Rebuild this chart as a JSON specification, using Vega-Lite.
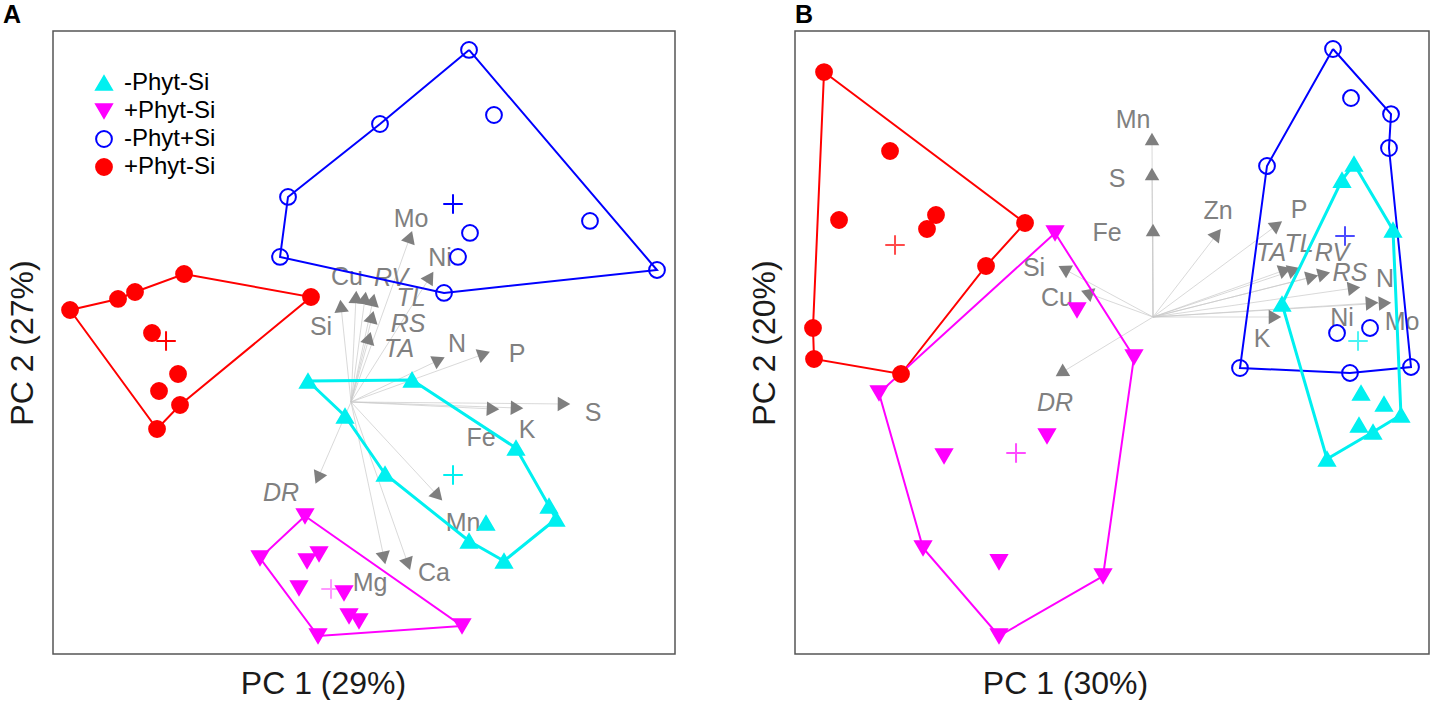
{
  "$schema": "https://vega.github.io/schema/vega-lite/v6.json",
  "padding": {"left": 2, "top": 2, "right": 0, "bottom": 0},
  "background": "white",
  "spacing": 71,
  "config": {
    "font": "Liberation Sans",
    "view": {"stroke": "#555555", "strokeWidth": 1.5},
    "axis": {"labels": false, "ticks": false, "domain": false, "grid": false, "titleFont": "Liberation Sans", "titleFontSize": 32, "titleFontWeight": "normal", "titleColor": "#1a1a1a", "titlePadding": 14},
    "axisX": {"titleX": 270, "titleAlign": "center"},
    "legend": {"orient": "none", "legendX": 39, "legendY": 40, "title": null, "labelFontSize": 24, "labelFont": "Liberation Sans", "labelColor": "#000000", "symbolSize": 250, "symbolStrokeWidth": 2, "rowPadding": 4, "labelOffset": 8, "padding": 0}
  },
  "resolve": {
    "scale": {"color": "independent", "fill": "independent", "stroke": "independent", "shape": "independent"}
  },
  "datasets": {
    "ptsA": [
      {"g": "-Phyt+Si", "x": 1.967, "y": 5.867}, {"g": "-Phyt+Si", "x": 0.483, "y": 4.633}, {"g": "-Phyt+Si", "x": -1.05, "y": 3.417}, {"g": "-Phyt+Si", "x": -1.183, "y": 2.417}, {"g": "-Phyt+Si", "x": 1.55, "y": 1.817}, {"g": "-Phyt+Si", "x": 5.1, "y": 2.2}, {"g": "-Phyt+Si", "x": 2.383, "y": 4.783}, {"g": "-Phyt+Si", "x": 3.983, "y": 3.017}, {"g": "-Phyt+Si", "x": 1.983, "y": 2.817}, {"g": "-Phyt+Si", "x": 1.783, "y": 2.417},
      {"g": "+Phyt+Si", "x": -4.683, "y": 1.533}, {"g": "+Phyt+Si", "x": -3.883, "y": 1.717}, {"g": "+Phyt+Si", "x": -3.6, "y": 1.833}, {"g": "+Phyt+Si", "x": -2.783, "y": 2.133}, {"g": "+Phyt+Si", "x": -0.667, "y": 1.75}, {"g": "+Phyt+Si", "x": -3.317, "y": 1.15}, {"g": "+Phyt+Si", "x": -2.883, "y": 0.467}, {"g": "+Phyt+Si", "x": -3.2, "y": 0.183}, {"g": "+Phyt+Si", "x": -2.85, "y": -0.05}, {"g": "+Phyt+Si", "x": -3.233, "y": -0.45},
      {"g": "-Phyt-Si", "x": -0.717, "y": 0.35}, {"g": "-Phyt-Si", "x": 1.017, "y": 0.367}, {"g": "-Phyt-Si", "x": -0.1, "y": -0.233}, {"g": "-Phyt-Si", "x": 0.567, "y": -1.2}, {"g": "-Phyt-Si", "x": 2.75, "y": -0.767}, {"g": "-Phyt-Si", "x": 3.3, "y": -1.733}, {"g": "-Phyt-Si", "x": 3.417, "y": -1.95}, {"g": "-Phyt-Si", "x": 2.25, "y": -2.017}, {"g": "-Phyt-Si", "x": 1.967, "y": -2.317}, {"g": "-Phyt-Si", "x": 2.55, "y": -2.65},
      {"g": "+Phyt-Si", "x": -0.767, "y": -1.9}, {"g": "+Phyt-Si", "x": -1.517, "y": -2.6}, {"g": "+Phyt-Si", "x": -0.533, "y": -2.533}, {"g": "+Phyt-Si", "x": -0.733, "y": -2.65}, {"g": "+Phyt-Si", "x": -0.867, "y": -3.1}, {"g": "+Phyt-Si", "x": -0.117, "y": -3.183}, {"g": "+Phyt-Si", "x": -0.033, "y": -3.567}, {"g": "+Phyt-Si", "x": 0.133, "y": -3.65}, {"g": "+Phyt-Si", "x": -0.55, "y": -3.9}, {"g": "+Phyt-Si", "x": 1.85, "y": -3.733}
    ],
    "hullA": [
      {"g": "-Phyt+Si", "o": 1, "x": 1.967, "y": 5.867}, {"g": "-Phyt+Si", "o": 2, "x": 5.1, "y": 2.2}, {"g": "-Phyt+Si", "o": 3, "x": 1.55, "y": 1.817}, {"g": "-Phyt+Si", "o": 4, "x": -1.183, "y": 2.417}, {"g": "-Phyt+Si", "o": 5, "x": -1.05, "y": 3.417}, {"g": "-Phyt+Si", "o": 6, "x": 0.483, "y": 4.633}, {"g": "-Phyt+Si", "o": 7, "x": 1.967, "y": 5.867},
      {"g": "+Phyt+Si", "o": 1, "x": -4.683, "y": 1.533}, {"g": "+Phyt+Si", "o": 2, "x": -3.883, "y": 1.717}, {"g": "+Phyt+Si", "o": 3, "x": -3.6, "y": 1.833}, {"g": "+Phyt+Si", "o": 4, "x": -2.783, "y": 2.133}, {"g": "+Phyt+Si", "o": 5, "x": -0.667, "y": 1.75}, {"g": "+Phyt+Si", "o": 6, "x": -2.85, "y": -0.05}, {"g": "+Phyt+Si", "o": 7, "x": -3.233, "y": -0.45}, {"g": "+Phyt+Si", "o": 8, "x": -4.683, "y": 1.533},
      {"g": "-Phyt-Si", "o": 1, "x": -0.717, "y": 0.35}, {"g": "-Phyt-Si", "o": 2, "x": 1.017, "y": 0.367}, {"g": "-Phyt-Si", "o": 3, "x": 2.75, "y": -0.767}, {"g": "-Phyt-Si", "o": 4, "x": 3.3, "y": -1.733}, {"g": "-Phyt-Si", "o": 5, "x": 3.417, "y": -1.95}, {"g": "-Phyt-Si", "o": 6, "x": 2.55, "y": -2.65}, {"g": "-Phyt-Si", "o": 7, "x": 1.967, "y": -2.317}, {"g": "-Phyt-Si", "o": 8, "x": 0.567, "y": -1.2}, {"g": "-Phyt-Si", "o": 9, "x": -0.1, "y": -0.233}, {"g": "-Phyt-Si", "o": 10, "x": -0.717, "y": 0.35},
      {"g": "+Phyt-Si", "o": 1, "x": -0.767, "y": -1.9}, {"g": "+Phyt-Si", "o": 2, "x": 1.85, "y": -3.733}, {"g": "+Phyt-Si", "o": 3, "x": -0.55, "y": -3.9}, {"g": "+Phyt-Si", "o": 4, "x": -1.517, "y": -2.6}, {"g": "+Phyt-Si", "o": 5, "x": -0.767, "y": -1.9}
    ],
    "cenA": [
      {"g": "-Phyt+Si", "x": 1.7, "y": 3.3}, {"g": "+Phyt+Si", "x": -3.083, "y": 1.017}, {"g": "-Phyt-Si", "x": 1.7, "y": -1.217}, {"g": "+Phyt-Si", "x": -0.333, "y": -3.117}
    ],
    "arrA": [
      {"v": "Mo", "x": 0.983, "y": 2.75, "lx": 1.0, "ly": 3.05, "it": false},
      {"v": "Ni", "x": 1.317, "y": 2.083, "lx": 1.483, "ly": 2.4, "it": false},
      {"v": "Cu", "x": 0.083, "y": 1.75, "lx": -0.067, "ly": 2.083, "it": false},
      {"v": "Si", "x": -0.167, "y": 1.6, "lx": -0.5, "ly": 1.25, "it": false},
      {"v": "RV", "x": 0.233, "y": 1.733, "lx": 0.667, "ly": 2.067, "it": true},
      {"v": "TL", "x": 0.367, "y": 1.7, "lx": 1.0, "ly": 1.733, "it": true},
      {"v": "RS", "x": 0.35, "y": 1.417, "lx": 0.95, "ly": 1.3, "it": true},
      {"v": "TA", "x": 0.3, "y": 1.067, "lx": 0.8, "ly": 0.883, "it": true},
      {"v": "N", "x": 1.467, "y": 0.7, "lx": 1.767, "ly": 0.967, "it": false},
      {"v": "P", "x": 2.217, "y": 0.8, "lx": 2.767, "ly": 0.8, "it": false},
      {"v": "S", "x": 3.55, "y": -0.033, "lx": 4.033, "ly": -0.183, "it": false},
      {"v": "K", "x": 2.767, "y": -0.1, "lx": 2.933, "ly": -0.467, "it": false},
      {"v": "Fe", "x": 2.367, "y": -0.117, "lx": 2.167, "ly": -0.6, "it": false},
      {"v": "DR", "x": -0.55, "y": -1.267, "lx": -1.167, "ly": -1.517, "it": true},
      {"v": "Mn", "x": 1.45, "y": -1.567, "lx": 1.867, "ly": -2.017, "it": false},
      {"v": "Mg", "x": 0.55, "y": -2.6, "lx": 0.317, "ly": -3.017, "it": false},
      {"v": "Ca", "x": 0.95, "y": -2.7, "lx": 1.383, "ly": -2.85, "it": false}
    ],
    "ptsB": [
      {"g": "+Phyt+Si", "x": -5.483, "y": 4.083}, {"g": "+Phyt+Si", "x": -4.383, "y": 2.767}, {"g": "+Phyt+Si", "x": -5.233, "y": 1.617}, {"g": "+Phyt+Si", "x": -3.617, "y": 1.7}, {"g": "+Phyt+Si", "x": -3.767, "y": 1.467}, {"g": "+Phyt+Si", "x": -2.133, "y": 1.567}, {"g": "+Phyt+Si", "x": -2.783, "y": 0.85}, {"g": "+Phyt+Si", "x": -5.667, "y": -0.183}, {"g": "+Phyt+Si", "x": -5.65, "y": -0.7}, {"g": "+Phyt+Si", "x": -4.2, "y": -0.95},
      {"g": "-Phyt+Si", "x": 3.0, "y": 4.467}, {"g": "-Phyt+Si", "x": 3.3, "y": 3.65}, {"g": "-Phyt+Si", "x": 3.967, "y": 3.383}, {"g": "-Phyt+Si", "x": 3.933, "y": 2.817}, {"g": "-Phyt+Si", "x": 1.9, "y": 2.517}, {"g": "-Phyt+Si", "x": 1.45, "y": -0.85}, {"g": "-Phyt+Si", "x": 3.283, "y": -0.933}, {"g": "-Phyt+Si", "x": 4.3, "y": -0.833}, {"g": "-Phyt+Si", "x": 3.067, "y": -0.267}, {"g": "-Phyt+Si", "x": 3.617, "y": -0.183},
      {"g": "-Phyt-Si", "x": 3.35, "y": 2.55}, {"g": "-Phyt-Si", "x": 3.15, "y": 2.283}, {"g": "-Phyt-Si", "x": 4.0, "y": 1.45}, {"g": "-Phyt-Si", "x": 2.15, "y": 0.217}, {"g": "-Phyt-Si", "x": 4.133, "y": -1.633}, {"g": "-Phyt-Si", "x": 3.85, "y": -1.45}, {"g": "-Phyt-Si", "x": 3.467, "y": -1.267}, {"g": "-Phyt-Si", "x": 3.433, "y": -1.8}, {"g": "-Phyt-Si", "x": 3.667, "y": -1.917}, {"g": "-Phyt-Si", "x": 2.9, "y": -2.367},
      {"g": "+Phyt-Si", "x": -1.633, "y": 1.4}, {"g": "+Phyt-Si", "x": -1.267, "y": 0.117}, {"g": "+Phyt-Si", "x": -4.567, "y": -1.267}, {"g": "+Phyt-Si", "x": -3.833, "y": -3.85}, {"g": "+Phyt-Si", "x": -2.567, "y": -5.317}, {"g": "+Phyt-Si", "x": -0.833, "y": -4.317}, {"g": "+Phyt-Si", "x": -0.317, "y": -0.667}, {"g": "+Phyt-Si", "x": -3.483, "y": -2.317}, {"g": "+Phyt-Si", "x": -1.767, "y": -1.983}, {"g": "+Phyt-Si", "x": -2.567, "y": -4.083}
    ],
    "hullB": [
      {"g": "+Phyt+Si", "o": 1, "x": -5.483, "y": 4.083}, {"g": "+Phyt+Si", "o": 2, "x": -2.133, "y": 1.567}, {"g": "+Phyt+Si", "o": 3, "x": -2.783, "y": 0.85}, {"g": "+Phyt+Si", "o": 4, "x": -4.2, "y": -0.95}, {"g": "+Phyt+Si", "o": 5, "x": -5.65, "y": -0.7}, {"g": "+Phyt+Si", "o": 6, "x": -5.667, "y": -0.183}, {"g": "+Phyt+Si", "o": 7, "x": -5.483, "y": 4.083},
      {"g": "-Phyt+Si", "o": 1, "x": 3.0, "y": 4.467}, {"g": "-Phyt+Si", "o": 2, "x": 3.967, "y": 3.383}, {"g": "-Phyt+Si", "o": 3, "x": 3.933, "y": 2.817}, {"g": "-Phyt+Si", "o": 4, "x": 4.3, "y": -0.833}, {"g": "-Phyt+Si", "o": 5, "x": 3.283, "y": -0.933}, {"g": "-Phyt+Si", "o": 6, "x": 1.45, "y": -0.85}, {"g": "-Phyt+Si", "o": 7, "x": 1.9, "y": 2.517}, {"g": "-Phyt+Si", "o": 8, "x": 3.0, "y": 4.467},
      {"g": "-Phyt-Si", "o": 1, "x": 3.35, "y": 2.55}, {"g": "-Phyt-Si", "o": 2, "x": 4.0, "y": 1.45}, {"g": "-Phyt-Si", "o": 3, "x": 4.133, "y": -1.633}, {"g": "-Phyt-Si", "o": 4, "x": 3.667, "y": -1.917}, {"g": "-Phyt-Si", "o": 5, "x": 2.9, "y": -2.367}, {"g": "-Phyt-Si", "o": 6, "x": 2.15, "y": 0.217}, {"g": "-Phyt-Si", "o": 7, "x": 3.15, "y": 2.283}, {"g": "-Phyt-Si", "o": 8, "x": 3.35, "y": 2.55},
      {"g": "+Phyt-Si", "o": 1, "x": -1.633, "y": 1.4}, {"g": "+Phyt-Si", "o": 2, "x": -0.317, "y": -0.667}, {"g": "+Phyt-Si", "o": 3, "x": -0.833, "y": -4.317}, {"g": "+Phyt-Si", "o": 4, "x": -2.567, "y": -5.317}, {"g": "+Phyt-Si", "o": 5, "x": -3.833, "y": -3.85}, {"g": "+Phyt-Si", "o": 6, "x": -4.567, "y": -1.267}, {"g": "+Phyt-Si", "o": 7, "x": -1.633, "y": 1.4}
    ],
    "cenB": [
      {"g": "+Phyt+Si", "x": -4.3, "y": 1.2}, {"g": "-Phyt+Si", "x": 3.2, "y": 1.35}, {"g": "-Phyt-Si", "x": 3.417, "y": -0.4}, {"g": "+Phyt-Si", "x": -2.283, "y": -2.267}
    ],
    "arrB": [
      {"v": "Mn", "x": -0.017, "y": 2.967, "lx": -0.333, "ly": 3.283, "it": false},
      {"v": "S", "x": -0.017, "y": 2.383, "lx": -0.6, "ly": 2.3, "it": false},
      {"v": "Fe", "x": 0.0, "y": 1.45, "lx": -0.767, "ly": 1.4, "it": false},
      {"v": "Zn", "x": 1.067, "y": 1.383, "lx": 1.083, "ly": 1.767, "it": false},
      {"v": "P", "x": 2.067, "y": 1.533, "lx": 2.433, "ly": 1.783, "it": false},
      {"v": "TA", "x": 2.2, "y": 0.783, "lx": 1.967, "ly": 1.067, "it": true},
      {"v": "TL", "x": 2.35, "y": 0.783, "lx": 2.433, "ly": 1.217, "it": true},
      {"v": "RV", "x": 2.65, "y": 0.667, "lx": 2.983, "ly": 1.067, "it": true},
      {"v": "RS", "x": 2.85, "y": 0.717, "lx": 3.283, "ly": 0.733, "it": true},
      {"v": "N", "x": 3.35, "y": 0.483, "lx": 3.867, "ly": 0.633, "it": false},
      {"v": "Ni", "x": 3.65, "y": 0.233, "lx": 3.15, "ly": -0.017, "it": false},
      {"v": "Mo", "x": 3.867, "y": 0.233, "lx": 4.15, "ly": -0.083, "it": false},
      {"v": "K", "x": 2.033, "y": 0.0, "lx": 1.817, "ly": -0.367, "it": false},
      {"v": "Si", "x": -1.483, "y": 0.8, "lx": -1.983, "ly": 0.817, "it": false},
      {"v": "Cu", "x": -1.1, "y": 0.4, "lx": -1.6, "ly": 0.317, "it": false},
      {"v": "DR", "x": -1.533, "y": -0.933, "lx": -1.633, "ly": -1.433, "it": true}
    ]
  },
  "hconcat": [
    {
      "width": 622,
      "height": 623,
      "title": {"text": "A", "anchor": "start", "frame": "group", "dx": -50, "fontSize": 25, "fontWeight": "bold", "font": "Liberation Sans", "color": "#000000", "offset": 3},
      "layer": [
        {
          "data": {"name": "arrA"},
          "mark": {"type": "rule", "color": "#c8c8c8", "strokeWidth": 0.7},
          "encoding": {
            "x": {"field": "x", "type": "quantitative", "scale": {"domain": [-4.967, 5.4], "nice": false, "zero": false}, "title": "PC 1 (29%)"},
            "x2": {"datum": 0},
            "y": {"field": "y", "type": "quantitative", "scale": {"domain": [-4.2, 6.183], "nice": false, "zero": false}, "title": "PC 2 (27%)"},
            "y2": {"datum": 0}
          }
        },
        {
          "data": {"name": "arrA"},
          "transform": [{"calculate": "atan2(datum.x, datum.y) * 180 / PI", "as": "ang"}],
          "mark": {"type": "point", "shape": "triangle-up", "filled": true, "color": "#7f7f7f", "size": 210, "opacity": 1},
          "encoding": {
            "x": {"field": "x", "type": "quantitative", "scale": {"domain": [-4.967, 5.4], "nice": false, "zero": false}, "title": "PC 1 (29%)"},
            "y": {"field": "y", "type": "quantitative", "scale": {"domain": [-4.2, 6.183], "nice": false, "zero": false}, "title": "PC 2 (27%)"},
            "angle": {"field": "ang", "type": "quantitative", "scale": null}
          }
        },
        {
          "data": {"name": "arrA"},
          "transform": [{"filter": "!datum.it"}],
          "mark": {"type": "text", "font": "Liberation Sans", "fontSize": 25, "color": "#808080", "align": "center", "baseline": "middle"},
          "encoding": {
            "x": {"field": "lx", "type": "quantitative", "scale": {"domain": [-4.967, 5.4], "nice": false, "zero": false}, "title": "PC 1 (29%)"},
            "y": {"field": "ly", "type": "quantitative", "scale": {"domain": [-4.2, 6.183], "nice": false, "zero": false}, "title": "PC 2 (27%)"},
            "text": {"field": "v", "type": "nominal"}
          }
        },
        {
          "data": {"name": "arrA"},
          "transform": [{"filter": "datum.it"}],
          "mark": {"type": "text", "font": "Liberation Sans", "fontSize": 25, "fontStyle": "italic", "color": "#808080", "align": "center", "baseline": "middle"},
          "encoding": {
            "x": {"field": "lx", "type": "quantitative", "scale": {"domain": [-4.967, 5.4], "nice": false, "zero": false}, "title": "PC 1 (29%)"},
            "y": {"field": "ly", "type": "quantitative", "scale": {"domain": [-4.2, 6.183], "nice": false, "zero": false}, "title": "PC 2 (27%)"},
            "text": {"field": "v", "type": "nominal"}
          }
        },
        {
          "data": {"name": "hullA"},
          "transform": [{"filter": "datum.g != '-Phyt-Si'"}],
          "mark": {"type": "line", "strokeWidth": 2},
          "encoding": {
            "x": {"field": "x", "type": "quantitative", "scale": {"domain": [-4.967, 5.4], "nice": false, "zero": false}, "title": "PC 1 (29%)"},
            "y": {"field": "y", "type": "quantitative", "scale": {"domain": [-4.2, 6.183], "nice": false, "zero": false}, "title": "PC 2 (27%)"},
            "order": {"field": "o", "type": "quantitative"},
            "color": {"field": "g", "type": "nominal", "scale": {"domain": ["+Phyt+Si", "-Phyt+Si", "+Phyt-Si", "-Phyt-Si"], "range": ["#ff0000", "#0000ff", "#ff00ff", "#00f0f0"]}, "legend": null}
          }
        },
        {
          "data": {"name": "hullA"},
          "transform": [{"filter": "datum.g == '-Phyt-Si'"}],
          "mark": {"type": "line", "strokeWidth": 3},
          "encoding": {
            "x": {"field": "x", "type": "quantitative", "scale": {"domain": [-4.967, 5.4], "nice": false, "zero": false}, "title": "PC 1 (29%)"},
            "y": {"field": "y", "type": "quantitative", "scale": {"domain": [-4.2, 6.183], "nice": false, "zero": false}, "title": "PC 2 (27%)"},
            "order": {"field": "o", "type": "quantitative"},
            "color": {"field": "g", "type": "nominal", "scale": {"domain": ["+Phyt+Si", "-Phyt+Si", "+Phyt-Si", "-Phyt-Si"], "range": ["#ff0000", "#0000ff", "#ff00ff", "#00f0f0"]}, "legend": null}
          }
        },
        {
          "data": {"name": "ptsA"},
          "mark": {"type": "point", "filled": true, "size": 250, "strokeWidth": 2, "opacity": 1},
          "encoding": {
            "x": {"field": "x", "type": "quantitative", "scale": {"domain": [-4.967, 5.4], "nice": false, "zero": false}, "title": "PC 1 (29%)"},
            "y": {"field": "y", "type": "quantitative", "scale": {"domain": [-4.2, 6.183], "nice": false, "zero": false}, "title": "PC 2 (27%)"},
            "fill": {"field": "g", "type": "nominal", "scale": {"domain": ["-Phyt-Si", "+Phyt-Si", "-Phyt+Si", "+Phyt+Si"], "range": ["#00f0f0", "#ff00ff", "transparent", "#ff0000"]},
              "legend": {"labelExpr": "datum.label == '+Phyt+Si' ? '+Phyt-Si' : datum.label"}},
            "stroke": {"field": "g", "type": "nominal", "scale": {"domain": ["-Phyt-Si", "+Phyt-Si", "-Phyt+Si", "+Phyt+Si"], "range": ["#00f0f0", "#ff00ff", "#0000ff", "#ff0000"]},
              "legend": {"labelExpr": "datum.label == '+Phyt+Si' ? '+Phyt-Si' : datum.label"}},
            "shape": {"field": "g", "type": "nominal", "scale": {"domain": ["-Phyt-Si", "+Phyt-Si", "-Phyt+Si", "+Phyt+Si"], "range": ["triangle-up", "triangle-down", "circle", "circle"]},
              "legend": {"labelExpr": "datum.label == '+Phyt+Si' ? '+Phyt-Si' : datum.label"}}
          }
        },
        {
          "data": {"name": "cenA"},
          "mark": {"type": "point", "shape": "M-1,0L1,0M0,-1L0,1", "filled": false, "size": 380, "strokeWidth": 2},
          "encoding": {
            "x": {"field": "x", "type": "quantitative", "scale": {"domain": [-4.967, 5.4], "nice": false, "zero": false}, "title": "PC 1 (29%)"},
            "y": {"field": "y", "type": "quantitative", "scale": {"domain": [-4.2, 6.183], "nice": false, "zero": false}, "title": "PC 2 (27%)"},
            "color": {"field": "g", "type": "nominal", "scale": {"domain": ["+Phyt+Si", "-Phyt+Si", "+Phyt-Si", "-Phyt-Si"], "range": ["#ff0000", "#0000ff", "#ff00ff", "#00f0f0"]}, "legend": null},
            "opacity": {"condition": {"test": "datum.g == '+Phyt-Si'", "value": 0.4}, "value": 1}
          }
        }
      ]
    },
    {
      "width": 634,
      "height": 623,
      "title": {"text": "B", "anchor": "start", "frame": "group", "dx": 0, "fontSize": 25, "fontWeight": "bold", "font": "Liberation Sans", "color": "#000000", "offset": 3},
      "layer": [
        {
          "data": {"name": "arrB"},
          "mark": {"type": "rule", "color": "#c8c8c8", "strokeWidth": 0.7},
          "encoding": {
            "x": {"field": "x", "type": "quantitative", "scale": {"domain": [-5.967, 4.6], "nice": false, "zero": false}, "title": "PC 1 (30%)"},
            "x2": {"datum": 0},
            "y": {"field": "y", "type": "quantitative", "scale": {"domain": [-5.617, 4.767], "nice": false, "zero": false}, "title": "PC 2 (20%)"},
            "y2": {"datum": 0}
          }
        },
        {
          "data": {"name": "arrB"},
          "transform": [{"calculate": "atan2(datum.x, datum.y) * 180 / PI", "as": "ang"}],
          "mark": {"type": "point", "shape": "triangle-up", "filled": true, "color": "#7f7f7f", "size": 210, "opacity": 1},
          "encoding": {
            "x": {"field": "x", "type": "quantitative", "scale": {"domain": [-5.967, 4.6], "nice": false, "zero": false}, "title": "PC 1 (30%)"},
            "y": {"field": "y", "type": "quantitative", "scale": {"domain": [-5.617, 4.767], "nice": false, "zero": false}, "title": "PC 2 (20%)"},
            "angle": {"field": "ang", "type": "quantitative", "scale": null}
          }
        },
        {
          "data": {"name": "arrB"},
          "transform": [{"filter": "!datum.it"}],
          "mark": {"type": "text", "font": "Liberation Sans", "fontSize": 25, "color": "#808080", "align": "center", "baseline": "middle"},
          "encoding": {
            "x": {"field": "lx", "type": "quantitative", "scale": {"domain": [-5.967, 4.6], "nice": false, "zero": false}, "title": "PC 1 (30%)"},
            "y": {"field": "ly", "type": "quantitative", "scale": {"domain": [-5.617, 4.767], "nice": false, "zero": false}, "title": "PC 2 (20%)"},
            "text": {"field": "v", "type": "nominal"}
          }
        },
        {
          "data": {"name": "arrB"},
          "transform": [{"filter": "datum.it"}],
          "mark": {"type": "text", "font": "Liberation Sans", "fontSize": 25, "fontStyle": "italic", "color": "#808080", "align": "center", "baseline": "middle"},
          "encoding": {
            "x": {"field": "lx", "type": "quantitative", "scale": {"domain": [-5.967, 4.6], "nice": false, "zero": false}, "title": "PC 1 (30%)"},
            "y": {"field": "ly", "type": "quantitative", "scale": {"domain": [-5.617, 4.767], "nice": false, "zero": false}, "title": "PC 2 (20%)"},
            "text": {"field": "v", "type": "nominal"}
          }
        },
        {
          "data": {"name": "hullB"},
          "transform": [{"filter": "datum.g != '-Phyt-Si'"}],
          "mark": {"type": "line", "strokeWidth": 2},
          "encoding": {
            "x": {"field": "x", "type": "quantitative", "scale": {"domain": [-5.967, 4.6], "nice": false, "zero": false}, "title": "PC 1 (30%)"},
            "y": {"field": "y", "type": "quantitative", "scale": {"domain": [-5.617, 4.767], "nice": false, "zero": false}, "title": "PC 2 (20%)"},
            "order": {"field": "o", "type": "quantitative"},
            "color": {"field": "g", "type": "nominal", "scale": {"domain": ["+Phyt+Si", "-Phyt+Si", "+Phyt-Si", "-Phyt-Si"], "range": ["#ff0000", "#0000ff", "#ff00ff", "#00f0f0"]}, "legend": null}
          }
        },
        {
          "data": {"name": "hullB"},
          "transform": [{"filter": "datum.g == '-Phyt-Si'"}],
          "mark": {"type": "line", "strokeWidth": 3},
          "encoding": {
            "x": {"field": "x", "type": "quantitative", "scale": {"domain": [-5.967, 4.6], "nice": false, "zero": false}, "title": "PC 1 (30%)"},
            "y": {"field": "y", "type": "quantitative", "scale": {"domain": [-5.617, 4.767], "nice": false, "zero": false}, "title": "PC 2 (20%)"},
            "order": {"field": "o", "type": "quantitative"},
            "color": {"field": "g", "type": "nominal", "scale": {"domain": ["+Phyt+Si", "-Phyt+Si", "+Phyt-Si", "-Phyt-Si"], "range": ["#ff0000", "#0000ff", "#ff00ff", "#00f0f0"]}, "legend": null}
          }
        },
        {
          "data": {"name": "ptsB"},
          "mark": {"type": "point", "filled": true, "size": 250, "strokeWidth": 2, "opacity": 1},
          "encoding": {
            "x": {"field": "x", "type": "quantitative", "scale": {"domain": [-5.967, 4.6], "nice": false, "zero": false}, "title": "PC 1 (30%)"},
            "y": {"field": "y", "type": "quantitative", "scale": {"domain": [-5.617, 4.767], "nice": false, "zero": false}, "title": "PC 2 (20%)"},
            "fill": {"field": "g", "type": "nominal", "scale": {"domain": ["-Phyt-Si", "+Phyt-Si", "-Phyt+Si", "+Phyt+Si"], "range": ["#00f0f0", "#ff00ff", "transparent", "#ff0000"]}, "legend": null},
            "stroke": {"field": "g", "type": "nominal", "scale": {"domain": ["-Phyt-Si", "+Phyt-Si", "-Phyt+Si", "+Phyt+Si"], "range": ["#00f0f0", "#ff00ff", "#0000ff", "#ff0000"]}, "legend": null},
            "shape": {"field": "g", "type": "nominal", "scale": {"domain": ["-Phyt-Si", "+Phyt-Si", "-Phyt+Si", "+Phyt+Si"], "range": ["triangle-up", "triangle-down", "circle", "circle"]}, "legend": null}
          }
        },
        {
          "data": {"name": "cenB"},
          "mark": {"type": "point", "shape": "M-1,0L1,0M0,-1L0,1", "filled": false, "size": 380, "strokeWidth": 2},
          "encoding": {
            "x": {"field": "x", "type": "quantitative", "scale": {"domain": [-5.967, 4.6], "nice": false, "zero": false}, "title": "PC 1 (30%)"},
            "y": {"field": "y", "type": "quantitative", "scale": {"domain": [-5.617, 4.767], "nice": false, "zero": false}, "title": "PC 2 (20%)"},
            "color": {"field": "g", "type": "nominal", "scale": {"domain": ["+Phyt+Si", "-Phyt+Si", "+Phyt-Si", "-Phyt-Si"], "range": ["#ff0000", "#0000ff", "#ff00ff", "#00f0f0"]}, "legend": null}
          }
        }
      ]
    }
  ]
}
